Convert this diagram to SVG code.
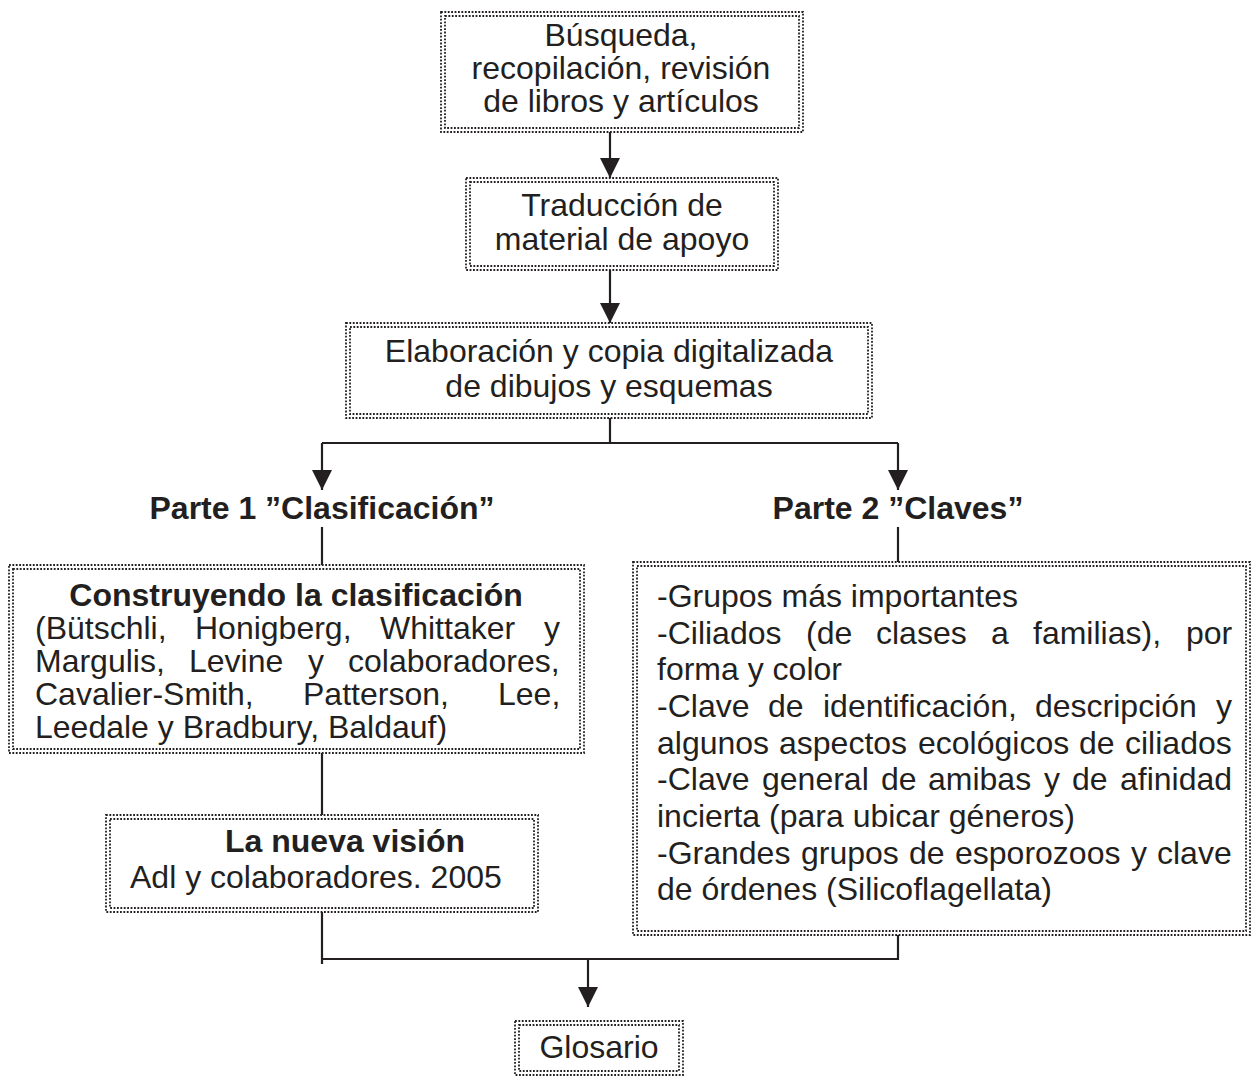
<svg xmlns="http://www.w3.org/2000/svg" width="1253" height="1080" viewBox="0 0 1253 1080">
<style>
.d{fill:none;stroke:#231f20;stroke-width:1.8;stroke-dasharray:1.8 1.6}
.c{fill:none;stroke:#231f20;stroke-width:2.2}
text{font-family:"Liberation Sans",Arial,sans-serif;font-size:32px;fill:#231f20}
.b{font-weight:bold}
.m{text-anchor:middle}
</style>
<defs>
<marker id="ah" markerUnits="userSpaceOnUse" markerWidth="20" markerHeight="20" refX="20" refY="10" orient="auto" viewBox="0 0 20 20">
<path d="M0,0 L20,10 L0,20 z" fill="#231f20"/>
</marker>
</defs>
<rect width="1253" height="1080" fill="#fff"/>
<g id="connectors">
<line class="c" x1="610" y1="132" x2="610" y2="178" marker-end="url(#ah)"/>
<line class="c" x1="610" y1="270" x2="610" y2="323" marker-end="url(#ah)"/>
<path class="c" d="M610,418 V443 M322,443 H898"/>
<line class="c" x1="322" y1="443" x2="322" y2="490" marker-end="url(#ah)"/>
<line class="c" x1="898" y1="443" x2="898" y2="490" marker-end="url(#ah)"/>
<path class="c" d="M322,527 V565 M898,527 V562 M322,753 V815 M322,912 V964 M322,959 H898 V935"/>
<line class="c" x1="588" y1="959" x2="588" y2="1007" marker-end="url(#ah)"/>
</g>
<g id="n1">
<rect class="d" x="441" y="12" width="362" height="120"/>
<rect class="d" x="445" y="16" width="354" height="112"/>
<text class="m" x="621" y="46">Búsqueda,</text>
<text class="m" x="621" y="79">recopilación, revisión</text>
<text class="m" x="621" y="112">de libros y artículos</text>
</g>
<g id="n2">
<rect class="d" x="466" y="178" width="312" height="92"/>
<rect class="d" x="470" y="182" width="304" height="84"/>
<text class="m" x="622" y="216">Traducción de</text>
<text class="m" x="622" y="250">material de apoyo</text>
</g>
<g id="n3">
<rect class="d" x="346" y="323" width="526" height="95"/>
<rect class="d" x="350" y="327" width="518" height="87"/>
<text class="m" x="609" y="362">Elaboración y copia digitalizada</text>
<text class="m" x="609" y="397">de dibujos y esquemas</text>
</g>
<g id="p1">
<text class="b m" x="322" y="519">Parte 1 ”Clasificación”</text>
</g>
<g id="p2">
<text class="b m" x="898" y="519">Parte 2 ”Claves”</text>
</g>
<g id="n4">
<rect class="d" x="9" y="565" width="575" height="188"/>
<rect class="d" x="13" y="569" width="567" height="180"/>
<text class="b m" x="296" y="606">Construyendo la clasificación</text>
<text y="639"><tspan x="35">(Bütschli,</tspan><tspan x="195">Honigberg,</tspan><tspan x="380">Whittaker</tspan><tspan x="544">y</tspan></text>
<text y="672"><tspan x="35">Margulis,</tspan><tspan x="189">Levine</tspan><tspan x="308">y</tspan><tspan x="348">colaboradores,</tspan></text>
<text y="705"><tspan x="35">Cavalier-Smith,</tspan><tspan x="303">Patterson,</tspan><tspan x="498">Lee,</tspan></text>
<text x="35" y="738">Leedale y Bradbury, Baldauf)</text>
</g>
<g id="n5">
<rect class="d" x="633" y="562" width="617" height="373"/>
<rect class="d" x="637" y="566" width="609" height="365"/>
<text x="657" y="607">-Grupos más importantes</text>
<text y="644"><tspan x="657">-Ciliados</tspan><tspan x="806">(de</tspan><tspan x="876">clases</tspan><tspan x="991">a</tspan><tspan x="1033">familias),</tspan><tspan x="1186">por</tspan></text>
<text x="657" y="680">forma y color</text>
<text y="717"><tspan x="657">-Clave</tspan><tspan x="768">de</tspan><tspan x="823">identificación,</tspan><tspan x="1035">descripción</tspan><tspan x="1216">y</tspan></text>
<text y="754"><tspan x="657">algunos</tspan><tspan x="779">aspectos</tspan><tspan x="918">ecológicos</tspan><tspan x="1079">de</tspan><tspan x="1125">ciliados</tspan></text>
<text y="790"><tspan x="657">-Clave</tspan><tspan x="762">general</tspan><tspan x="881">de</tspan><tspan x="928">amibas</tspan><tspan x="1044">y</tspan><tspan x="1072">de</tspan><tspan x="1120">afinidad</tspan></text>
<text x="657" y="827">incierta (para ubicar géneros)</text>
<text y="864"><tspan x="657">-Grandes</tspan><tspan x="801">grupos</tspan><tspan x="909">de</tspan><tspan x="955">esporozoos</tspan><tspan x="1131">y</tspan><tspan x="1157">clave</tspan></text>
<text x="657" y="900">de órdenes (Silicoflagellata)</text>
</g>
<g id="n6">
<rect class="d" x="106" y="815" width="432" height="97"/>
<rect class="d" x="110" y="819" width="424" height="89"/>
<text class="b" x="225" y="852">La nueva visión</text>
<text x="130" y="888">Adl y colaboradores. 2005</text>
</g>
<g id="n7">
<rect class="d" x="515" y="1021" width="168" height="54"/>
<rect class="d" x="519" y="1025" width="160" height="46"/>
<text class="m" x="599" y="1058">Glosario</text>
</g>
</svg>
